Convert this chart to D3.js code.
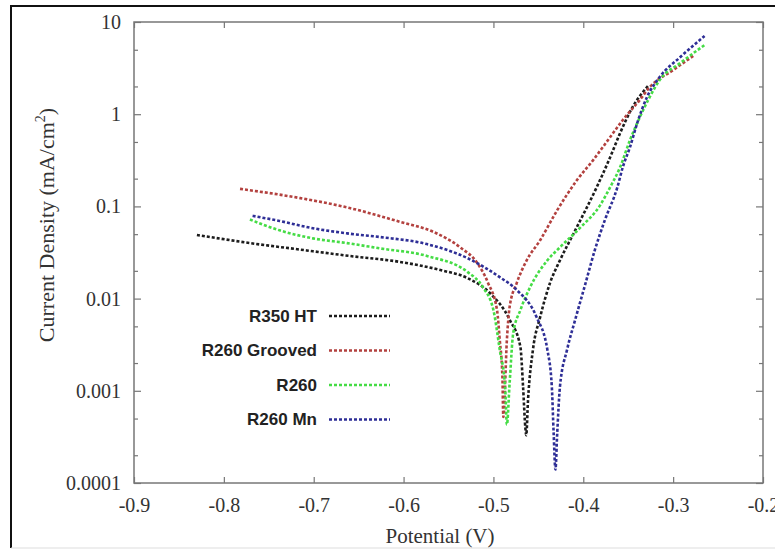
<!DOCTYPE html>
<html>
<head>
<meta charset="utf-8">
<script src="https://cdn.jsdelivr.net/npm/d3@7"></script>
<style>
  body { margin: 0; background: #fff; }
</style>
</head>
<body>
<svg width="775" height="550"></svg>
<script>
var svg = d3.select("svg"),
  width = +svg.attr("width"),
  height = +svg.attr("height");

// potential (V) / current density (mA/cm2)
var seriesNames = ["R350 HT", "R260 Grooved", "R260", "R260 Mn"];
var seriesColors = ["#1c1c1c", "#b3413f", "#45dc45", "#2e2e96"];

var r350_V = [-0.830, -0.771, -0.715, -0.660, -0.604, -0.559, -0.529, -0.504, -0.482, -0.470, -0.467, -0.4645, -0.4635,
  -0.4615, -0.456, -0.448, -0.437, -0.426, -0.409, -0.385, -0.370, -0.359, -0.345, -0.328];
var r350_I = [0.049, 0.040, 0.034, 0.029, 0.025, 0.0204, 0.0167, 0.0115, 0.0059, 0.0030, 0.0011, 0.00040, 0.00033,
  0.00079, 0.0028, 0.0063, 0.0148, 0.026, 0.055, 0.162, 0.343, 0.625, 1.20, 2.02];

var grooved_V = [-0.782, -0.715, -0.660, -0.604, -0.567, -0.537, -0.518, -0.506, -0.496, -0.493, -0.490, -0.489,
  -0.485, -0.482, -0.474, -0.463, -0.448, -0.429, -0.407, -0.389, -0.370, -0.356, -0.337, -0.326, -0.300, -0.276];
var grooved_I = [0.155, 0.123, 0.096, 0.068, 0.053, 0.036, 0.0243, 0.0148, 0.0075, 0.0036, 0.0014, 0.00052,
  0.0036, 0.0081, 0.0148, 0.026, 0.043, 0.091, 0.193, 0.318, 0.566, 0.865, 1.43, 1.97, 3.01, 4.39];

var r260_V = [-0.771, -0.738, -0.701, -0.663, -0.626, -0.574, -0.529, -0.512, -0.500, -0.493, -0.487, -0.485,
  -0.482, -0.478, -0.470, -0.459, -0.440, -0.426, -0.404, -0.381, -0.370, -0.359, -0.348, -0.337, -0.326, -0.315, -0.292, -0.265];
var r260_I = [0.072, 0.055, 0.045, 0.040, 0.035, 0.029, 0.0195, 0.0134, 0.0075, 0.0028, 0.0011, 0.00043,
  0.0012, 0.0042, 0.0075, 0.0134, 0.026, 0.036, 0.058, 0.104, 0.162, 0.267, 0.525, 0.93, 1.54, 2.35, 3.59, 5.63];

var mn_V = [-0.768, -0.738, -0.701, -0.663, -0.626, -0.574, -0.529, -0.493, -0.474, -0.452, -0.440, -0.435, -0.433, -0.431,
  -0.429, -0.426, -0.418, -0.409, -0.398, -0.387, -0.376, -0.362, -0.356, -0.348, -0.340, -0.329, -0.315, -0.292, -0.265];
var mn_I = [0.079, 0.0695, 0.058, 0.051, 0.0465, 0.039, 0.0275, 0.0171, 0.0124, 0.0063, 0.0028, 0.0011, 0.00035, 0.00014,
  0.00035, 0.0011, 0.0028, 0.0059, 0.0141, 0.034, 0.071, 0.162, 0.267, 0.44, 0.80, 1.54, 2.53, 4.17, 7.05];

var xTicks = [-0.9, -0.8, -0.7, -0.6, -0.5, -0.4, -0.3, -0.2];
var xTickLabels = ["-0.9", "-0.8", "-0.7", "-0.6", "-0.5", "-0.4", "-0.3", "-0.2"];
var yTicks = [0.0001, 0.001, 0.01, 0.1, 1, 10];
var yTickLabels = ["0.0001", "0.001", "0.01", "0.1", "1", "10"];

var allV = [r350_V, grooved_V, r260_V, mn_V];
var allI = [r350_I, grooved_I, r260_I, mn_I];

var plotLeft = 134, plotRight = 763, plotTop = 22, plotBottom = 483;

var x = d3.scaleLinear().domain([-0.9, -0.2]).range([plotLeft, plotRight]);
var y = d3.scaleLog().domain([0.0001, 10]).range([plotBottom, plotTop]);

// outer frame of the figure
svg.append("path")
  .attr("d", "M11,548 L11,6 L775,6")
  .attr("fill", "none")
  .attr("stroke", "#111")
  .attr("stroke-width", 2);
svg.append("line")
  .attr("x1", 11).attr("x2", 775).attr("y1", 548).attr("y2", 548)
  .attr("stroke", "#ddd");

// minor ticks at 2 and 5 of each decade
var minor = [];
yTicks.slice(0, -1).forEach(function (d) {
  minor.push(d * 2, d * 5);
});

var tickFont = "'Liberation Serif', 'Times New Roman', serif";

function styleAxis(g) {
  g.select(".domain").remove();
  g.selectAll("line").attr("stroke", "#777").attr("stroke-width", 1.2);
  g.selectAll("text")
    .attr("font-family", tickFont)
    .attr("font-size", 20)
    .attr("fill", "#333");
}

svg.append("g")
  .attr("transform", "translate(0," + plotBottom + ")")
  .call(d3.axisBottom(x).tickValues(xTicks).tickSize(-6).tickPadding(15)
    .tickFormat(function (d, i) { return xTickLabels[i]; }))
  .call(styleAxis);
svg.append("g")
  .attr("transform", "translate(0," + plotTop + ")")
  .call(d3.axisTop(x).tickValues(xTicks).tickSize(-6).tickFormat(""))
  .call(styleAxis);

svg.append("g")
  .attr("transform", "translate(" + plotLeft + ",0)")
  .call(d3.axisLeft(y).tickValues(yTicks).tickSize(-7).tickPadding(13)
    .tickFormat(function (d, i) { return yTickLabels[i]; }))
  .call(styleAxis);
svg.append("g")
  .attr("transform", "translate(" + plotLeft + ",0)")
  .call(d3.axisLeft(y).tickValues(minor).tickSize(-4).tickFormat(""))
  .call(styleAxis);
svg.append("g")
  .attr("transform", "translate(" + plotRight + ",0)")
  .call(d3.axisRight(y).tickValues(yTicks).tickSize(-7).tickFormat(""))
  .call(styleAxis);
svg.append("g")
  .attr("transform", "translate(" + plotRight + ",0)")
  .call(d3.axisRight(y).tickValues(minor).tickSize(-4).tickFormat(""))
  .call(styleAxis);

// plot frame
svg.append("rect")
  .attr("x", plotLeft).attr("y", plotTop)
  .attr("width", plotRight - plotLeft).attr("height", plotBottom - plotTop)
  .attr("fill", "none")
  .attr("stroke", "#777")
  .attr("stroke-width", 1.5);

// axis titles
svg.append("text")
  .attr("font-family", tickFont)
  .attr("font-size", 21)
  .attr("fill", "#333")
  .attr("text-anchor", "middle")
  .attr("x", 440)
  .attr("y", 543)
  .text("Potential (V)");

var yt = svg.append("text")
  .attr("font-family", tickFont)
  .attr("font-size", 22)
  .attr("fill", "#333")
  .attr("text-anchor", "middle")
  .attr("transform", "translate(54,225) rotate(-90)");
yt.append("tspan").text("Current Density (mA/cm");
yt.append("tspan").attr("font-size", 14).attr("dy", -9).text("2");
yt.append("tspan").attr("dy", 9).text(")");

// curves
var line = d3.line()
  .x(function (d) { return x(d[0]); })
  .y(function (d) { return y(d[1]); })
  .curve(d3.curveMonotoneX);

seriesNames.forEach(function (name, i) {
  var pts = allV[i].map(function (v, j) { return [v, allI[i][j]]; });
  svg.append("path")
    .datum(pts)
    .attr("d", line)
    .attr("fill", "none")
    .attr("stroke", seriesColors[i])
    .attr("stroke-width", 2.6)
    .attr("stroke-dasharray", "3,2");
});

// legend
var legend = svg.append("g");
seriesNames.forEach(function (name, i) {
  var ly = 316 + i * 34.5;
  legend.append("text")
    .attr("x", 317)
    .attr("y", ly)
    .attr("dy", "0.35em")
    .attr("text-anchor", "end")
    .attr("font-family", "'Liberation Sans', Arial, sans-serif")
    .attr("font-weight", "bold")
    .attr("font-size", 17)
    .attr("fill", "#222")
    .text(name);
  legend.append("line")
    .attr("x1", 329).attr("x2", 390)
    .attr("y1", ly).attr("y2", ly)
    .attr("stroke", seriesColors[i])
    .attr("stroke-width", 2.6)
    .attr("stroke-dasharray", "3,2");
});
</script>
</body>
</html>
